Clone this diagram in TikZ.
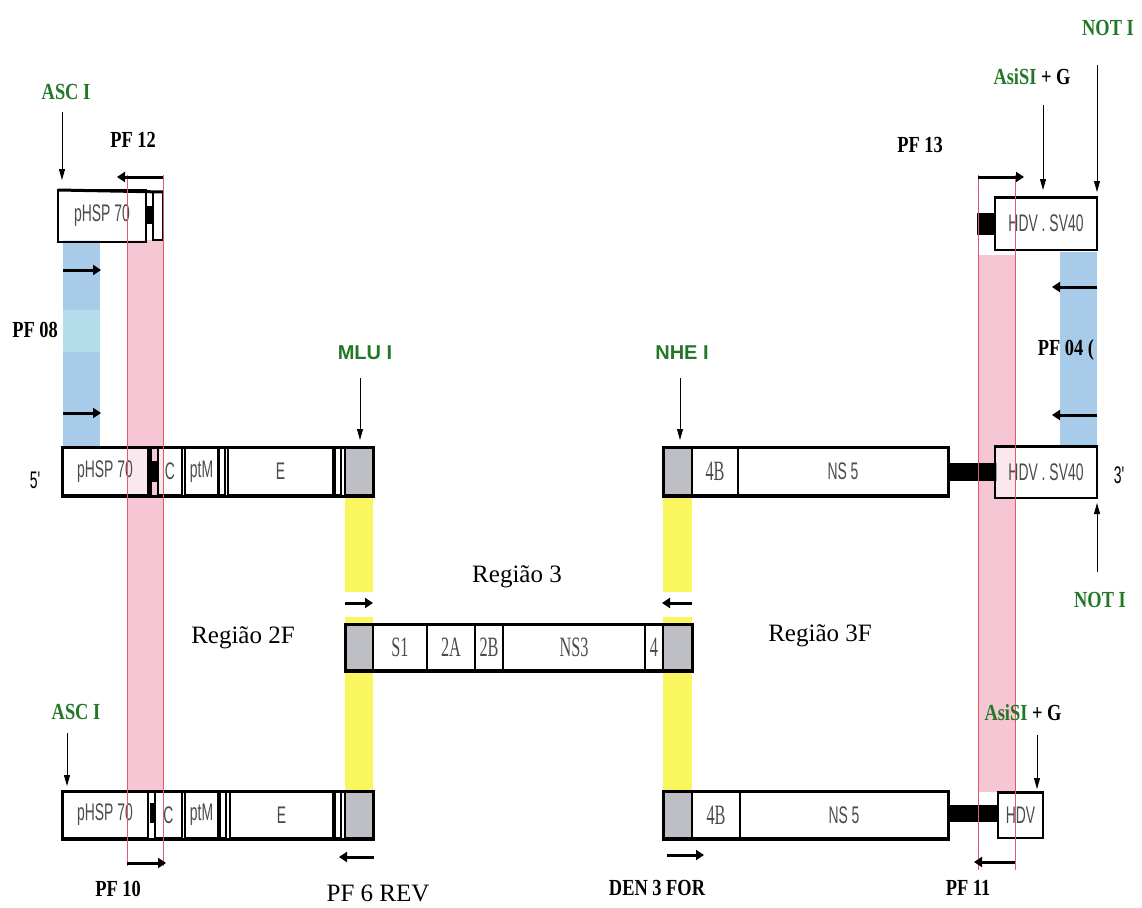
\documentclass[tikz,border=0pt]{standalone}
\usepackage{fontspec}
\usepackage{graphicx}
\setmainfont{Liberation Serif}
\newfontfamily\sansf{Liberation Sans}
\usetikzlibrary{arrows.meta}
\definecolor{pinkf}{RGB}{247,198,212}
\definecolor{pinkl}{RGB}{225,90,110}
\definecolor{bluef}{RGB}{168,203,233}
\definecolor{cyanf}{RGB}{180,222,235}
\definecolor{yelf}{RGB}{250,246,95}
\definecolor{boxgray}{RGB}{190,191,196}
\definecolor{sitegreen}{RGB}{35,120,40}
\newcommand{\bs}[1]{{\sansf\fontsize{24}{24}\selectfont\scalebox{0.58}[1]{#1}}}
\newcommand{\bt}[1]{{\fontsize{28}{28}\selectfont\scalebox{0.58}[1]{#1}}}
\newcommand{\lb}[1]{{\bfseries\fontsize{23}{23}\selectfont\scalebox{0.8}[1]{#1}}}
\newcommand{\seg}[7]{\node[#6, minimum width={(#3-#2)*1pt}, minimum height={(#5-#4)*1pt}] (#1) at ({(#2+#3)/2},{(#4+#5)/2}) {#7};}
\tikzset{
  box/.style={draw, line width=1.5pt, fill=white, fill opacity=0.6, text opacity=1, inner sep=0pt, outer sep=0pt, text=black!70},
  gbox/.style={draw, line width=2pt, fill=boxgray, inner sep=0pt, outer sep=0pt},
  blk/.style={fill=black, inner sep=0pt, outer sep=0pt},
  frame/.style={draw, line width=3pt, inner sep=0pt, outer sep=0pt},
  primer/.style={line width=3pt, -{Triangle[width=10pt,length=8pt]}},
  site/.style={line width=0.8pt, -{Triangle[width=6pt,length=11pt]}},
  grn/.style={text=sitegreen, inner sep=0pt},
  lbl/.style={inner sep=0pt},
  reg/.style={inner sep=0pt, font=\fontsize{25}{25}\selectfont},
  sitesans/.style={text=sitegreen, inner sep=0pt, font=\sansf\bfseries\fontsize{20}{20}\selectfont},
}
\begin{document}
\begin{tikzpicture}[x=1pt,y=-1pt]
\useasboundingbox (0,0) rectangle (1142,907);
\fill[white] (0,0) rectangle (1142,907);
% background bands
\fill[pinkf] (127,240) rectangle (163,792);
\fill[pinkf] (978,255) rectangle (1015,792);
\fill[bluef] (63,240) rectangle (100,447);
\fill[bluef] (1060,252) rectangle (1097,445);
\fill[cyanf] (63,310) rectangle (100,352);
\foreach \xa/\xb in {345/373, 663/692}{
  \fill[yelf] (\xa,497) rectangle (\xb,592);
  \fill[yelf] (\xa,617) rectangle (\xb,625);
  \fill[yelf] (\xa,670) rectangle (\xb,792);
}
% top-left construct
\seg{tlP}{58}{146}{190}{242}{box}{\bs{pHSP 70}}
\seg{tlK}{146}{153}{206}{224}{blk}{}
\seg{tlB}{153}{163}{192}{240}{box}{}
\draw[line width=3pt] (tlP.north west) -- (tlB.north east);
% top-right construct
\seg{trK}{977}{995}{213}{235}{blk}{}
\seg{trH}{995}{1097}{197}{250}{box}{\bs{HDV . SV40}}
\draw[line width=3pt] (trH.north west) -- (trH.north east);
% row 1 left
\seg{r1P}{62}{148}{448}{495}{box}{\bs{pHSP 70}}
\seg{r1K}{148}{152}{448}{495}{blk}{}
\seg{r1Kb}{152}{158}{461}{482}{blk}{}
\seg{r1C}{158}{182}{448}{495}{box}{\bs{C}}
\seg{r1M}{185}{218}{448}{495}{box}{\bs{ptM}}
\seg{r1d}{219}{225}{448}{495}{box}{}
\seg{r1E}{228}{333}{448}{495}{box}{\bs{E}}
\seg{r1e}{335}{341}{448}{495}{box}{}
\seg{r1G}{345}{373}{448}{495}{gbox}{}
\seg{r1F}{62}{373}{447}{496}{frame}{}
% row 1 right
\seg{r1H}{663}{692}{448}{495}{gbox}{}
\seg{r1B}{692}{738}{448}{495}{box}{\bt{4B}}
\seg{r1N}{738}{948}{448}{495}{box}{\bs{NS 5}}
\seg{r1R}{663}{948}{447}{496}{frame}{}
\seg{r1X}{948}{997}{463}{481}{blk}{}
\seg{r1V}{995}{1097}{446}{498}{box}{\bs{HDV . SV40}}
\draw[line width=3pt] (r1V.north west) -- (r1V.north east);
% row 2
\seg{r2G}{345}{373}{625}{670}{gbox}{}
\seg{r2S}{373}{427}{625}{670}{box}{\bt{S1}}
\seg{r2A}{427}{475}{625}{670}{box}{\bt{2A}}
\seg{r2B}{475}{503}{625}{670}{box}{\bt{2B}}
\seg{r2N}{503}{645}{625}{670}{box}{\bt{NS3}}
\seg{r2F}{645}{663}{625}{670}{box}{\bt{4}}
\seg{r2H}{663}{692}{625}{670}{gbox}{}
\seg{r2R}{345}{692}{624}{671}{frame}{}
% row 3 left
\seg{r3P}{62}{148}{792}{838}{box}{\bs{pHSP 70}}
\seg{r3K}{150}{155}{803}{823}{blk}{}
\seg{r3C}{155}{182}{792}{838}{box}{\bs{C}}
\seg{r3M}{185}{218}{792}{838}{box}{\bs{ptM}}
\seg{r3d}{220}{226}{792}{838}{box}{}
\seg{r3E}{230}{333}{792}{838}{box}{\bs{E}}
\seg{r3e}{335}{341}{792}{838}{box}{}
\seg{r3G}{345}{373}{792}{838}{gbox}{}
\seg{r3F}{62}{373}{791}{839}{frame}{}
% row 3 right
\seg{r3H}{663}{692}{792}{838}{gbox}{}
\seg{r3B}{692}{740}{792}{838}{box}{\bt{4B}}
\seg{r3N}{740}{948}{792}{838}{box}{\bs{NS 5}}
\seg{r3R}{663}{948}{791}{839}{frame}{}
\seg{r3X}{948}{998}{805}{822}{blk}{}
\seg{r3V}{998}{1043}{792}{838}{box}{\bs{HDV}}
\draw[line width=3pt] (r3V.north west) -- (r3V.north east);
% pink outlines
\draw[pinkl, line width=0.7pt] (127,175) -- (127,866) (163,175) -- (163,866);
\draw[pinkl, line width=0.7pt] (978,175) -- (978,870) (1015,175) -- (1015,870);
% primer arrows
\coordinate (p12a) at (163,177); \coordinate (p12b) at (117,177);
\coordinate (p13a) at (978,177); \coordinate (p13b) at (1024,177);
\coordinate (p8a) at (63,270); \coordinate (p8b) at (101,270);
\coordinate (p8c) at (63,413); \coordinate (p8d) at (101,413);
\coordinate (p4a) at (1097,287); \coordinate (p4b) at (1052,287);
\coordinate (p4c) at (1097,415); \coordinate (p4d) at (1052,415);
\coordinate (yla) at (345,603); \coordinate (ylb) at (373,603);
\coordinate (yra) at (692,603); \coordinate (yrb) at (662,603);
\coordinate (p10a) at (127,863); \coordinate (p10b) at (166,863);
\coordinate (p6a) at (374,857); \coordinate (p6b) at (339,857);
\coordinate (d3a) at (667,855); \coordinate (d3b) at (704,855);
\coordinate (p11a) at (1015,862); \coordinate (p11b) at (974,862);
\foreach \a/\b in {p12a/p12b,p13a/p13b,p8a/p8b,p8c/p8d,p4a/p4b,p4c/p4d,yla/ylb,yra/yrb,p10a/p10b,p6a/p6b,d3a/d3b,p11a/p11b}
  \draw[primer] (\a) -- (\b);
% restriction sites
\node[grn] (asc1) at (66,92) {\lb{ASC I}};
\coordinate (asc1t) at (62,180);
\draw[site] (62,112) -- (asc1t);
\node[lbl] (asi1) at (1032,77) {\lb{\textcolor{sitegreen}{AsiSI} + G}};
\coordinate (asi1t) at (1043,190);
\draw[site] (1043,105) -- (asi1t);
\node[grn] (not1) at (1108,28) {\lb{NOT I}};
\coordinate (not1t) at (1097,192);
\draw[site] (1097,65) -- (not1t);
\node[sitesans] (mlu) at (365,353) {MLU I};
\coordinate (mlut) at (360,440);
\draw[site] (360,378) -- (mlut);
\node[sitesans] (nhe) at (682,353) {NHE I};
\coordinate (nhet) at (680,440);
\draw[site] (680,378) -- (nhet);
\node[grn] (not2) at (1100,600) {\lb{NOT I}};
\coordinate (not2s) at (1097,572);
\draw[site] (not2s) -- (1097,503);
\node[grn] (asc2) at (76,712) {\lb{ASC I}};
\coordinate (asc2t) at (67,786);
\draw[site] (67,733) -- (asc2t);
\node[lbl] (asi2) at (1023,713) {\lb{\textcolor{sitegreen}{AsiSI} + G}};
\coordinate (asi2t) at (1037,789);
\draw[site] (1037,735) -- (asi2t);
% primer labels
\node[lbl] (lp12) at (133,140) {\lb{PF 12}};
\node[lbl] (lp13) at (920,145) {\lb{PF 13}};
\node[lbl] (lp08) at (35,330) {\lb{PF 08}};
\node[lbl] (lp04) at (1066,350) {\lb{PF 04 (}};
\node[lbl] (lp10) at (118,889) {\lb{PF 10}};
\node[lbl] (lp11) at (968,888) {\lb{PF 11}};
\node[lbl] (ld3) at (657,888) {\lb{DEN 3 FOR}};
\node[reg] (lp6) at (378,893) {PF 6 REV};
% ends
\node[lbl] (e5) at (35,480) {\bs{5'}};
\node[lbl] (e3) at (1119,475) {\bs{3'}};
% regions
\node[reg] (reg3) at (517,577) {Região 3};
\node[reg] (reg2f) at (243,638) {Região 2F};
\node[reg] (reg3f) at (820,636) {Região 3F};
\end{tikzpicture}
\end{document}
